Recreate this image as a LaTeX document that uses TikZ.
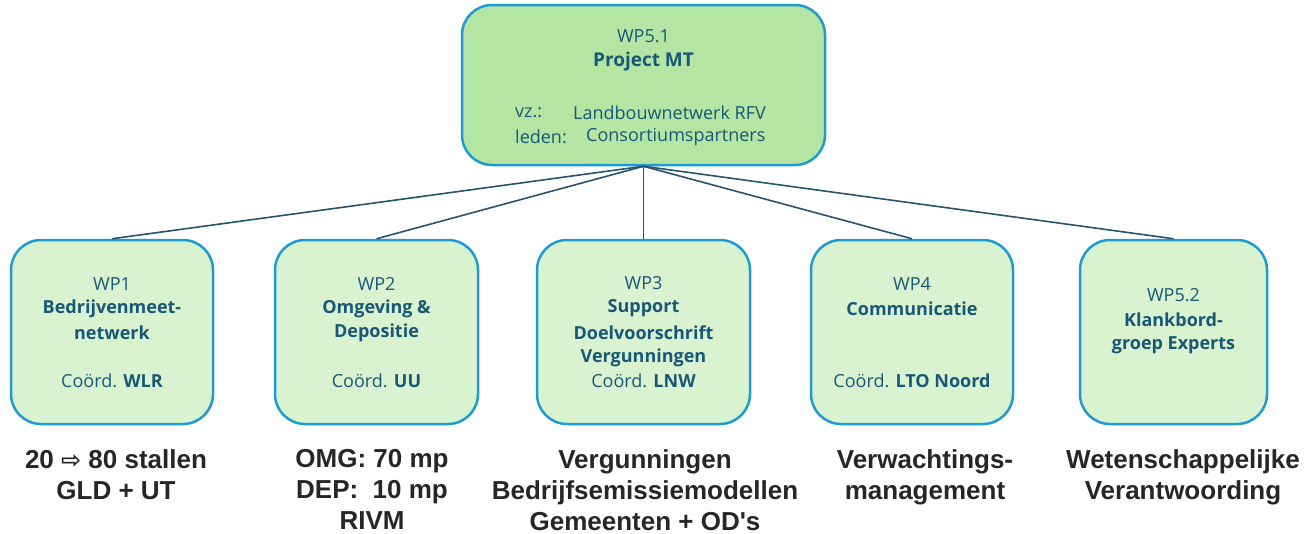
\documentclass[tikz,border=0pt]{standalone}
\usepackage{fontspec}
\setmainfont{Open Sans}
\newfontfamily\arialb{Liberation Sans}
\newfontfamily\djv{DejaVu Sans}
\definecolor{boxline}{RGB}{30,155,210}
\definecolor{topfill}{RGB}{180,229,162}
\definecolor{lowfill}{RGB}{217,242,208}
\definecolor{txt}{RGB}{24,88,118}
\definecolor{conn}{RGB}{38,84,112}
\definecolor{dark}{RGB}{38,38,38}
\tikzset{
  wpbox/.style={draw=boxline, line width=2.5pt, rounded corners=30pt, fill=lowfill, inner sep=0pt},
  topbox/.style={wpbox, fill=topfill},
  boxtxt/.style={text=txt, font=\fontsize{18}{22}\selectfont, inner sep=0pt, anchor=center},
  boxbold/.style={boxtxt, font=\fontsize{18}{22}\selectfont\bfseries},
  lowtxt/.style={text=dark, font=\arialb\bfseries\fontsize{26}{31}\selectfont, align=center, anchor=north, inner sep=0pt},
  conline/.style={draw=conn, line width=1.6pt}
}
\begin{document}
\begin{tikzpicture}[x=1pt,y=-1pt]
\useasboundingbox (0,0) rectangle (1306,533);
% boxes
\node[topbox, minimum width=363pt, minimum height=160pt] (top) at (643.5,85) {};
\node[wpbox, minimum width=202pt, minimum height=184pt] (w1) at (112,332) {};
\node[wpbox, minimum width=203pt, minimum height=184pt] (w2) at (376.5,332) {};
\node[wpbox, minimum width=213pt, minimum height=184pt] (w3) at (643.5,332) {};
\node[wpbox, minimum width=202pt, minimum height=184pt] (w4) at (912,332) {};
\node[wpbox, minimum width=187pt, minimum height=184pt] (w5) at (1173.5,332) {};
% connectors
\foreach \b in {w1,w2,w3,w4,w5} \draw[conline] (top.south) -- (\b.north);
% top text
\node[boxtxt] (ta) at (643.5,36) {WP5.1};
\node[boxbold, font=\fontsize{19}{22}\selectfont\bfseries] (tb) at (643.5,62) {Project MT};
\node[boxtxt, anchor=west] (tc1) at (515,113) {vz.:};
\node[boxtxt, anchor=west] (tc2) at (573,113) {Landbouwnetwerk RFV};
\node[boxtxt, anchor=west] (td1) at (515,137) {leden:};
\node[boxtxt, anchor=west] (td2) at (586,137) {Consortiumspartners};
% WP1
\node[boxtxt] (a1) at (112,284) {WP1};
\node[boxbold] (a2) at (112,309) {Bedrijvenmeet-};
\node[boxbold] (a3) at (112,333) {netwerk};
\node[boxtxt] (a4) at (112,381) {Coörd. \textbf{WLR}};
% WP2
\node[boxtxt] (b1) at (376.5,284) {WP2};
\node[boxbold] (b2) at (376.5,309) {Omgeving \&};
\node[boxbold] (b3) at (376.5,333) {Depositie};
\node[boxtxt] (b4) at (376.5,381) {Coörd. \textbf{UU}};
% WP3
\node[boxtxt] (c1) at (643.5,283) {WP3};
\node[boxbold] (c2) at (643.5,308) {Support};
\node[boxbold] (c3) at (643.5,333) {Doelvoorschrift};
\node[boxbold] (c4) at (643.5,358) {Vergunningen};
\node[boxtxt] (c5) at (643.5,381) {Coörd. \textbf{LNW}};
% WP4
\node[boxtxt] (d1) at (912,284) {WP4};
\node[boxbold] (d2) at (912,309) {Communicatie};
\node[boxtxt] (d3) at (912,381) {Coörd. \textbf{LTO Noord}};
% WP5.2
\node[boxtxt] (e1) at (1173.5,295) {WP5.2};
\node[boxbold] (e2) at (1173.5,320) {Klankbord-};
\node[boxbold] (e3) at (1173.5,345) {groep Experts};
% lower texts
\node[lowtxt] (l1) at (116,449) {20 {\djv\bfseries\fontsize{24}{31}\selectfont ⇨} 80 stallen\\GLD + UT};
\node[lowtxt] (l2) at (372,449) {OMG: 70 mp\\DEP:\ \ 10 mp\\RIVM};
\node[lowtxt] (l3) at (645,449) {Vergunningen\\Bedrijfsemissiemodellen\\Gemeenten + OD's};
\node[lowtxt] (l4) at (925,449) {Verwachtings-\\management};
\node[lowtxt] (l5) at (1183,449) {Wetenschappelijke\\Verantwoording};
\end{tikzpicture}
\end{document}
